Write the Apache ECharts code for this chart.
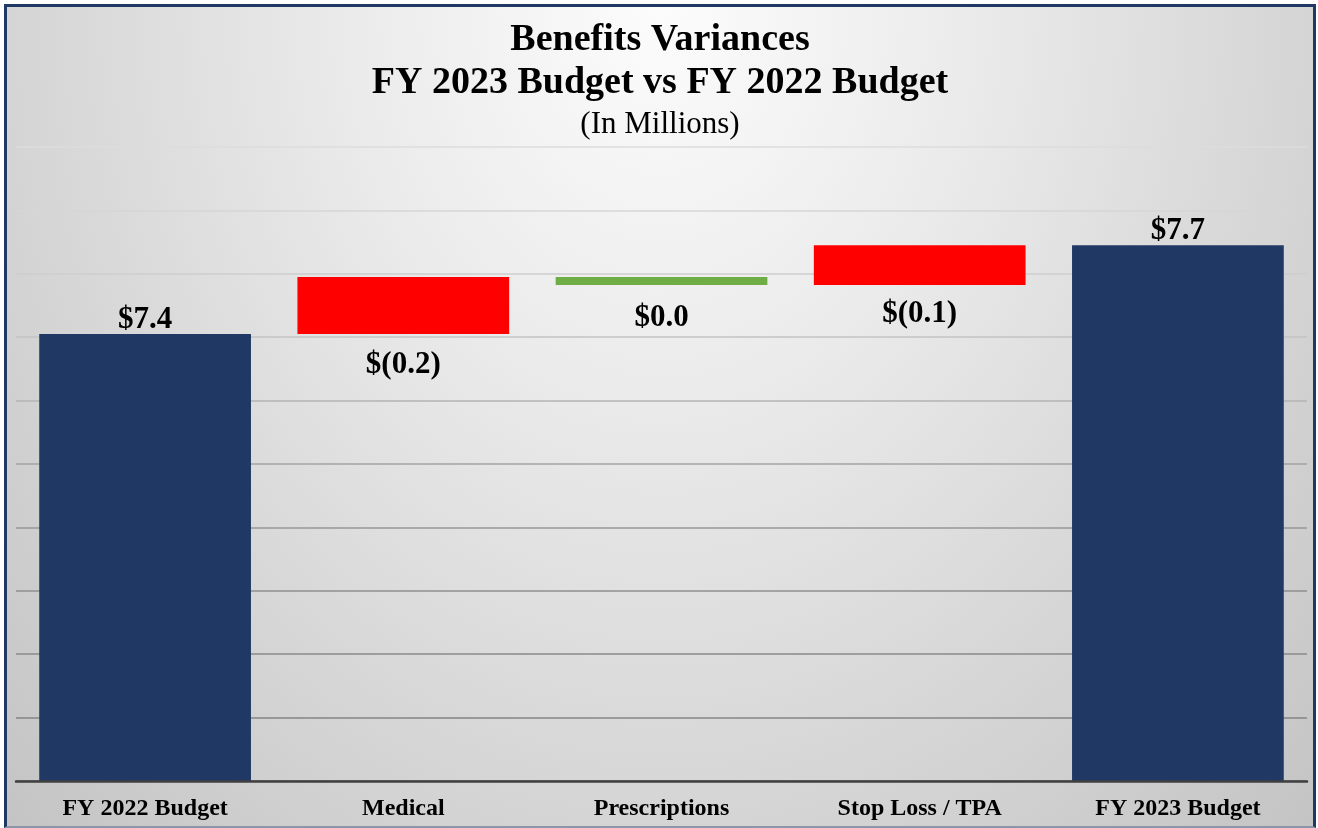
<!DOCTYPE html>
<html>
<head>
<meta charset="utf-8">
<title>Benefits Variances</title>
<script src="https://cdn.jsdelivr.net/npm/echarts@6/dist/echarts.min.js"></script>
<style>
  html, body { margin: 0; padding: 0; background: #ffffff; }
  #main {
    position: absolute;
    left: 4px;
    top: 4px;
    width: 1312px;
    height: 824px;
    box-sizing: border-box;
    border: 3px solid #203864;
    border-bottom: 2px solid #8c96a8;
    background: radial-gradient(ellipse farthest-corner at 50% 0%, #fcfcfc 0%, #ebebeb 33%, #d6d6d6 68%, #c4c4c4 100%);
  }
</style>
</head>
<body>
<div id="main"></div>
<script>
// 分类
const categories = ['FY 2022 Budget', 'Medical', 'Prescriptions', 'Stop Loss / TPA', 'FY 2023 Budget'];
// 起止预算（百万）
const budget2022 = 7.41;
const budget2023 = 7.69;
// 差异：正数 = 成本增加（红色），负数 = 减少（绿色）
const variances = [0.18, -0.025, 0.125];

const fontFamily = "'Liberation Serif', 'Times New Roman', serif";
const navy = '#203864';

// 金额格式
function totalLabel(v) {
  return '$' + v.toFixed(1);
}
function varianceLabel(v) {
  return v > 0 ? '$(' + v.toFixed(1) + ')' : '$' + Math.abs(v).toFixed(1);
}

// 瀑布图：透明底座 + 可见柱
const baseData = [0];
const barData = [{
  value: budget2022,
  itemStyle: { color: navy },
  label: { position: 'top', distance: -1, formatter: totalLabel(budget2022) }
}];
const labelGap = [15, 18, 14];
let running = budget2022;
variances.forEach((v, i) => {
  baseData.push(v >= 0 ? running : running + v);
  barData.push({
    value: Math.abs(v),
    itemStyle: { color: v >= 0 ? '#ff0000' : '#70ad47' },
    label: { position: 'bottom', distance: labelGap[i], formatter: varianceLabel(v) }
  });
  running += v;
});
baseData.push(0);
barData.push({
  value: budget2023,
  itemStyle: { color: navy },
  label: { position: 'top', distance: -1, formatter: totalLabel(budget2023) }
});

const chart = echarts.init(document.getElementById('main'));

chart.setOption({
  animation: false,
  title: [
    {
      text: 'Benefits Variances',
      left: 'center',
      top: 9,
      textStyle: { fontFamily: fontFamily, fontSize: 38, fontWeight: 'bold', color: '#000' }
    },
    {
      text: 'FY 2023 Budget vs FY 2022 Budget',
      left: 'center',
      top: 52,
      textStyle: { fontFamily: fontFamily, fontSize: 38, fontWeight: 'bold', color: '#000' }
    },
    {
      text: '(In Millions)',
      left: 'center',
      top: 97,
      textStyle: { fontFamily: fontFamily, fontSize: 31, fontWeight: 'normal', color: '#000' }
    }
  ],
  grid: {
    left: 9,
    right: 6,
    top: 140,
    bottom: 45,
    containLabel: false
  },
  xAxis: {
    type: 'category',
    data: categories,
    z: 5,
    axisLine: { show: true, lineStyle: { color: '#404040', width: 2.5 } },
    axisTick: { show: false },
    axisLabel: {
      interval: 0,
      margin: 16,
      fontFamily: fontFamily,
      fontSize: 24,
      fontWeight: 'bold',
      color: '#000'
    }
  },
  yAxis: {
    type: 'value',
    min: 6,
    max: 8,
    interval: 0.2,
    axisLine: { show: false },
    axisTick: { show: false },
    axisLabel: { show: false },
    splitLine: {
      show: true,
      lineStyle: {
        width: 1.5,
        color: ['#808080', '#858585', '#8a8a8a', '#8f8f8f', '#979797', '#a3a3a3',
                '#b3b3b3', '#c3c3c3', '#cecece', '#d6d6d6', '#dcdcdc']
      }
    }
  },
  series: [
    {
      name: 'base',
      type: 'bar',
      stack: 'waterfall',
      barWidth: '82%',
      silent: true,
      itemStyle: { color: 'transparent' },
      data: baseData
    },
    {
      name: 'value',
      type: 'bar',
      stack: 'waterfall',
      barWidth: '82%',
      label: {
        show: true,
        fontFamily: fontFamily,
        fontSize: 31,
        fontWeight: 'bold',
        color: '#000'
      },
      data: barData
    }
  ]
});
</script>
</body>
</html>
